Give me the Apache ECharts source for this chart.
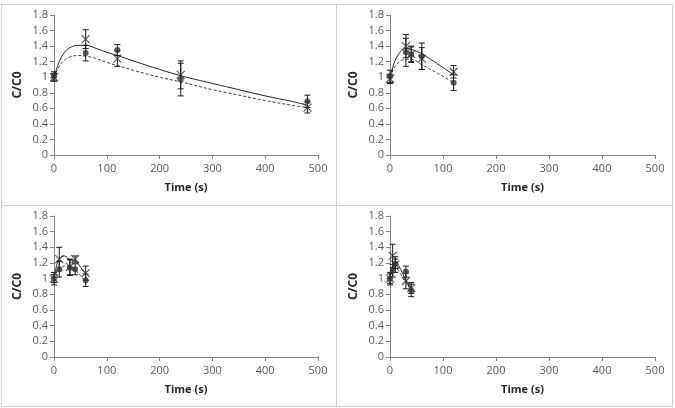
<!DOCTYPE html>
<html>
<head>
<meta charset="utf-8">
<script src="https://cdn.jsdelivr.net/npm/echarts@6/dist/echarts.min.js"></script>
<style>
  html, body { margin: 0; padding: 0; background: #fff; }
  #chart { width: 675px; height: 408px; }
</style>
</head>
<body>
<div id="chart"></div>
<script>
// tick labels shared by all 4 panels
const xTicks = [0, 100, 200, 300, 400, 500];
const yTicks = [0, 0.2, 0.4, 0.6, 0.8, 1, 1.2, 1.4, 1.6, 1.8];

// panel 1 (top left)
const p1Times = [0, 60, 120, 240, 480];
const p1Cross = [1.0, 1.49, 1.24, 1.03, 0.61];
const p1CrossErr = [0.05, 0.12, 0.1, 0.18, 0.07];
const p1Dot = [1.01, 1.31, 1.35, 0.97, 0.69];
const p1DotErr = [0.06, 0.1, 0.07, 0.21, 0.08];
const p1FitT = [0, 10, 20, 30, 45, 60, 80, 100, 120, 150, 200, 240, 300, 350, 400, 450, 480];
const p1FitSolid = [1.0, 1.2, 1.32, 1.38, 1.41, 1.41, 1.37, 1.32, 1.28, 1.21, 1.1, 1.02, 0.92, 0.84, 0.76, 0.69, 0.64];
const p1FitDash = [1.0, 1.14, 1.22, 1.26, 1.28, 1.27, 1.24, 1.19, 1.15, 1.09, 1.0, 0.94, 0.84, 0.77, 0.70, 0.64, 0.61];

// panel 2 (top right)
const p2Times = [0, 30, 40, 60, 120];
const p2Cross = [0.98, 1.4, 1.3, 1.24, 1.07];
const p2CrossErr = [0.06, 0.15, 0.1, 0.14, 0.08];
const p2Dot = [1.01, 1.32, 1.29, 1.27, 0.93];
const p2DotErr = [0.08, 0.18, 0.1, 0.17, 0.1];
const p2FitT = [0, 5, 10, 20, 30, 40, 60, 90, 120];
const p2FitSolid = [1.0, 1.12, 1.22, 1.33, 1.37, 1.36, 1.3, 1.17, 1.03];
const p2FitDash = [1.0, 1.08, 1.14, 1.21, 1.23, 1.23, 1.16, 1.05, 0.93];

// panel 3 (bottom left)
const p3Times = [0, 10, 30, 40, 60];
const p3Cross = [1.0, 1.25, 1.15, 1.25, 1.07];
const p3CrossErr = [0.05, 0.15, 0.1, 0.04, 0.09];
const p3Dot = [1.0, 1.12, 1.14, 1.12, 0.98];
const p3DotErr = [0.08, 0.1, 0.1, 0.07, 0.08];
const p3FitT = [0, 5, 10, 20, 30, 40, 50, 60];
const p3FitSolid = [1.0, 1.17, 1.25, 1.29, 1.24, 1.23, 1.15, 1.06];
const p3FitDash = [1.0, 1.09, 1.13, 1.16, 1.15, 1.11, 1.04, 0.96];

// panel 4 (bottom right)
const p4Times = [0, 5, 10, 30, 40];
const p4Cross = [1.0, 1.29, 1.18, 0.97, 0.88];
const p4CrossErr = [0.06, 0.15, 0.1, 0.1, 0.07];
const p4Dot = [1.0, 1.1, 1.19, 1.09, 0.85];
const p4DotErr = [0.08, 0.08, 0.06, 0.07, 0.08];
const p4FitT = [0, 5, 10, 20, 30, 40];
const p4FitSolid = [1.0, 1.17, 1.21, 1.12, 0.98, 0.88];
const p4FitDash = [1.0, 1.1, 1.14, 1.06, 0.95, 0.85];

const panels = [
  { t: p1Times, cross: p1Cross, crossErr: p1CrossErr, dot: p1Dot, dotErr: p1DotErr, fitT: p1FitT, solid: p1FitSolid, dash: p1FitDash },
  { t: p2Times, cross: p2Cross, crossErr: p2CrossErr, dot: p2Dot, dotErr: p2DotErr, fitT: p2FitT, solid: p2FitSolid, dash: p2FitDash },
  { t: p3Times, cross: p3Cross, crossErr: p3CrossErr, dot: p3Dot, dotErr: p3DotErr, fitT: p3FitT, solid: p3FitSolid, dash: p3FitDash },
  { t: p4Times, cross: p4Cross, crossErr: p4CrossErr, dot: p4Dot, dotErr: p4DotErr, fitT: p4FitT, solid: p4FitSolid, dash: p4FitDash },
];

// plot boxes of the 4 panels
const grids = [
  { left: 54, top: 15, width: 264, height: 140 },
  { left: 390, top: 15, width: 265, height: 140 },
  { left: 54, top: 216, width: 264, height: 141 },
  { left: 390, top: 216, width: 265, height: 141 },
];

const font = '"Open Sans", "Liberation Sans", sans-serif';
const crossPath = 'path://M0,0 L10,10 M10,0 L0,10';

function zip(a, b) {
  return a.map((v, i) => [v, b[i]]);
}

function errData(t, v, e) {
  return t.map((x, i) => [x, v[i] - e[i], v[i] + e[i]]);
}

function renderErr(params, api) {
  const lo = api.coord([api.value(0), api.value(1)]);
  const hi = api.coord([api.value(0), api.value(2)]);
  const w = 3;
  const style = { stroke: '#1a1a1a', lineWidth: 1 };
  return {
    type: 'group',
    children: [
      { type: 'line', shape: { x1: lo[0], y1: lo[1], x2: hi[0], y2: hi[1] }, style },
      { type: 'line', shape: { x1: lo[0] - w, y1: lo[1], x2: lo[0] + w, y2: lo[1] }, style },
      { type: 'line', shape: { x1: hi[0] - w, y1: hi[1], x2: hi[0] + w, y2: hi[1] }, style },
    ],
  };
}

const xAxis = [];
const yAxis = [];
const series = [];
panels.forEach((p, i) => {
  xAxis.push({
    type: 'value', gridIndex: i, min: 0, max: 500, interval: 100,
    name: 'Time (s)', nameLocation: 'middle', nameGap: 27,
    nameTextStyle: { fontFamily: font, fontWeight: 'bold', fontSize: 11, color: '#262626' },
    axisLine: { lineStyle: { color: '#868686' } },
    axisTick: { show: true, length: 4, lineStyle: { color: '#868686' } },
    axisLabel: {
      fontFamily: font, fontSize: 11, color: '#595959', margin: 8,
      formatter: (v) => (xTicks.includes(v) ? String(v) : ''),
    },
    splitLine: { show: false },
  });
  yAxis.push({
    type: 'value', gridIndex: i, min: 0, max: 1.8, interval: 0.2,
    name: 'C/C0', nameLocation: 'middle', nameGap: 30, nameRotate: 90,
    nameTextStyle: { fontFamily: font, fontWeight: 'bold', fontSize: 12, color: '#262626' },
    axisLine: { show: true, lineStyle: { color: '#868686' } },
    axisTick: { show: true, length: 4, lineStyle: { color: '#868686' } },
    axisLabel: {
      fontFamily: font, fontSize: 11, color: '#595959', margin: 6,
      formatter: (v) => {
        const r = Math.round(v * 10) / 10;
        return yTicks.includes(r) ? String(r) : '';
      },
    },
    splitLine: { show: false },
  });
  series.push(
    {
      type: 'line', xAxisIndex: i, yAxisIndex: i, smooth: 0.4, symbol: 'none',
      data: zip(p.fitT, p.solid),
      lineStyle: { color: '#262626', width: 1 },
      z: 2,
    },
    {
      type: 'line', xAxisIndex: i, yAxisIndex: i, smooth: 0.4, symbol: 'none',
      data: zip(p.fitT, p.dash),
      lineStyle: { color: '#404040', width: 1, type: [3, 2] },
      z: 2,
    },
    {
      type: 'custom', xAxisIndex: i, yAxisIndex: i, renderItem: renderErr,
      data: errData(p.t, p.cross, p.crossErr), z: 3,
    },
    {
      type: 'custom', xAxisIndex: i, yAxisIndex: i, renderItem: renderErr,
      data: errData(p.t, p.dot, p.dotErr), z: 3,
    },
    {
      type: 'scatter', xAxisIndex: i, yAxisIndex: i, symbol: crossPath, symbolSize: 8,
      data: zip(p.t, p.cross),
      itemStyle: { color: 'none', borderColor: '#333', borderWidth: 1.2 },
      z: 4,
    },
    {
      type: 'scatter', xAxisIndex: i, yAxisIndex: i, symbol: 'circle', symbolSize: 6,
      data: zip(p.t, p.dot),
      itemStyle: { color: '#333' },
      z: 4,
    }
  );
});

const chart = echarts.init(document.getElementById('chart'));
chart.setOption({
  animation: false,
  backgroundColor: '#fff',
  grid: grids,
  xAxis,
  yAxis,
  series,
  graphic: [
    { type: 'rect', shape: { x: 1.5, y: 4.5, width: 671, height: 402 }, style: { fill: 'none', stroke: '#d0d0d0', lineWidth: 1 } },
    { type: 'line', shape: { x1: 336.5, y1: 4, x2: 336.5, y2: 407 }, style: { stroke: '#d0d0d0', lineWidth: 1 } },
    { type: 'line', shape: { x1: 1, y1: 205.5, x2: 673, y2: 205.5 }, style: { stroke: '#d0d0d0', lineWidth: 1 } },
  ],
});
</script>
</body>
</html>
